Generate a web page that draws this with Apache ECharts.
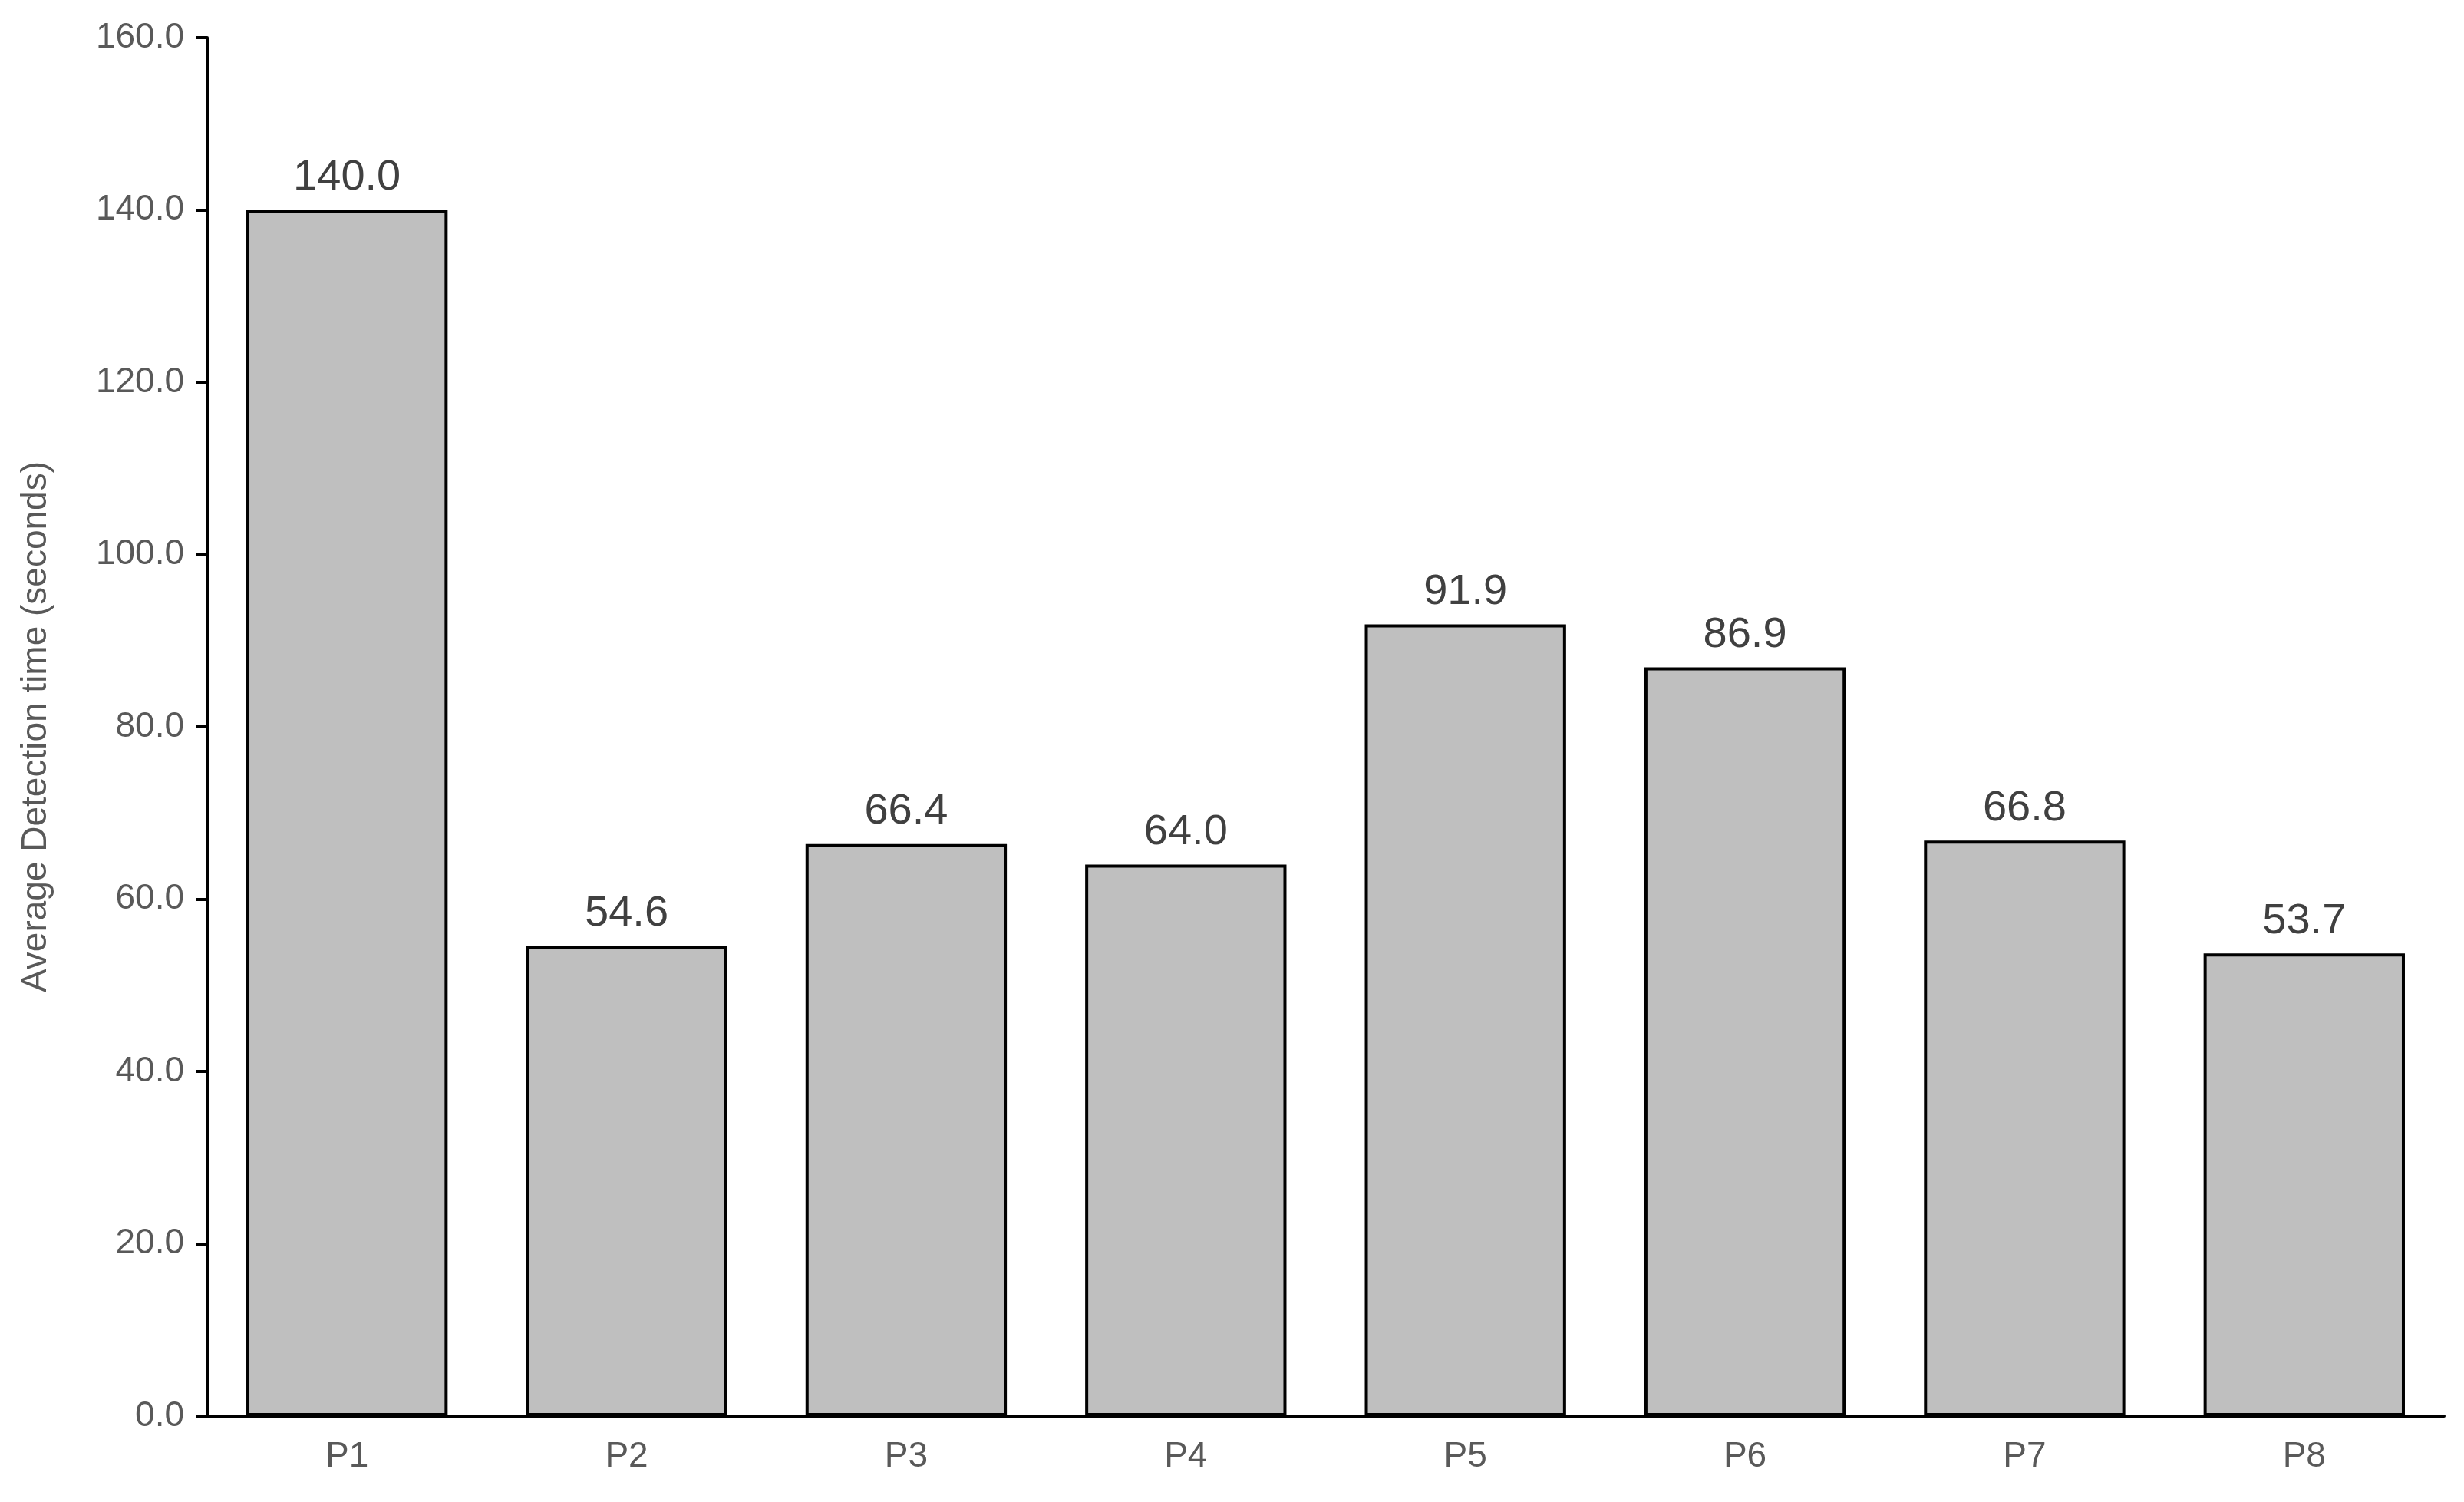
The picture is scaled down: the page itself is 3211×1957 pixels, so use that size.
<!DOCTYPE html>
<html>
<head>
<meta charset="utf-8">
<script src="https://cdn.jsdelivr.net/npm/echarts@6/dist/echarts.min.js"></script>
<style>html,body{margin:0;padding:0;background:#fff}#chart{width:3211px;height:1957px}</style>
</head>
<body>
<div id="chart"></div>
<script>
var categories = ['P1', 'P2', 'P3', 'P4', 'P5', 'P6', 'P7', 'P8'];
var detectionTimes = [140.0, 54.6, 66.4, 64.0, 91.9, 86.9, 66.8, 53.7];

var chart = echarts.init(document.getElementById('chart'));
chart.setOption({
    backgroundColor: '#ffffff',
    animation: false,
    grid: { left: 270, right: 26, top: 49, bottom: 112 },
    xAxis: {
        type: 'category',
        data: categories,
        axisLine: { lineStyle: { color: '#000', width: 4 } },
        axisTick: { show: false },
        axisLabel: { color: '#595959', fontSize: 46, fontFamily: 'Liberation Sans', margin: 30 }
    },
    yAxis: {
        type: 'value',
        min: 0,
        max: 160,
        interval: 20,
        name: 'Average Detection time (seconds)',
        nameLocation: 'middle',
        nameGap: 200,
        nameTextStyle: { color: '#595959', fontSize: 46, fontFamily: 'Liberation Sans' },
        axisLine: { show: true, lineStyle: { color: '#000', width: 4 } },
        axisTick: { show: true, length: 14, lineStyle: { color: '#000', width: 4 } },
        splitLine: { show: false },
        axisLabel: {
            color: '#595959', fontSize: 46, fontFamily: 'Liberation Sans', margin: 30,
            formatter: function (v) { return v.toFixed(1); }
        }
    },
    series: [{
        type: 'bar',
        data: detectionTimes,
        barWidth: '72%',
        itemStyle: { color: '#bfbfbf', borderColor: '#000', borderWidth: 4 },
        label: {
            show: true,
            position: 'top',
            distance: 14,
            color: '#404040',
            fontSize: 56,
            fontFamily: 'Liberation Sans',
            formatter: function (p) { return p.value.toFixed(1); }
        }
    }]
});
</script>
</body>
</html>
